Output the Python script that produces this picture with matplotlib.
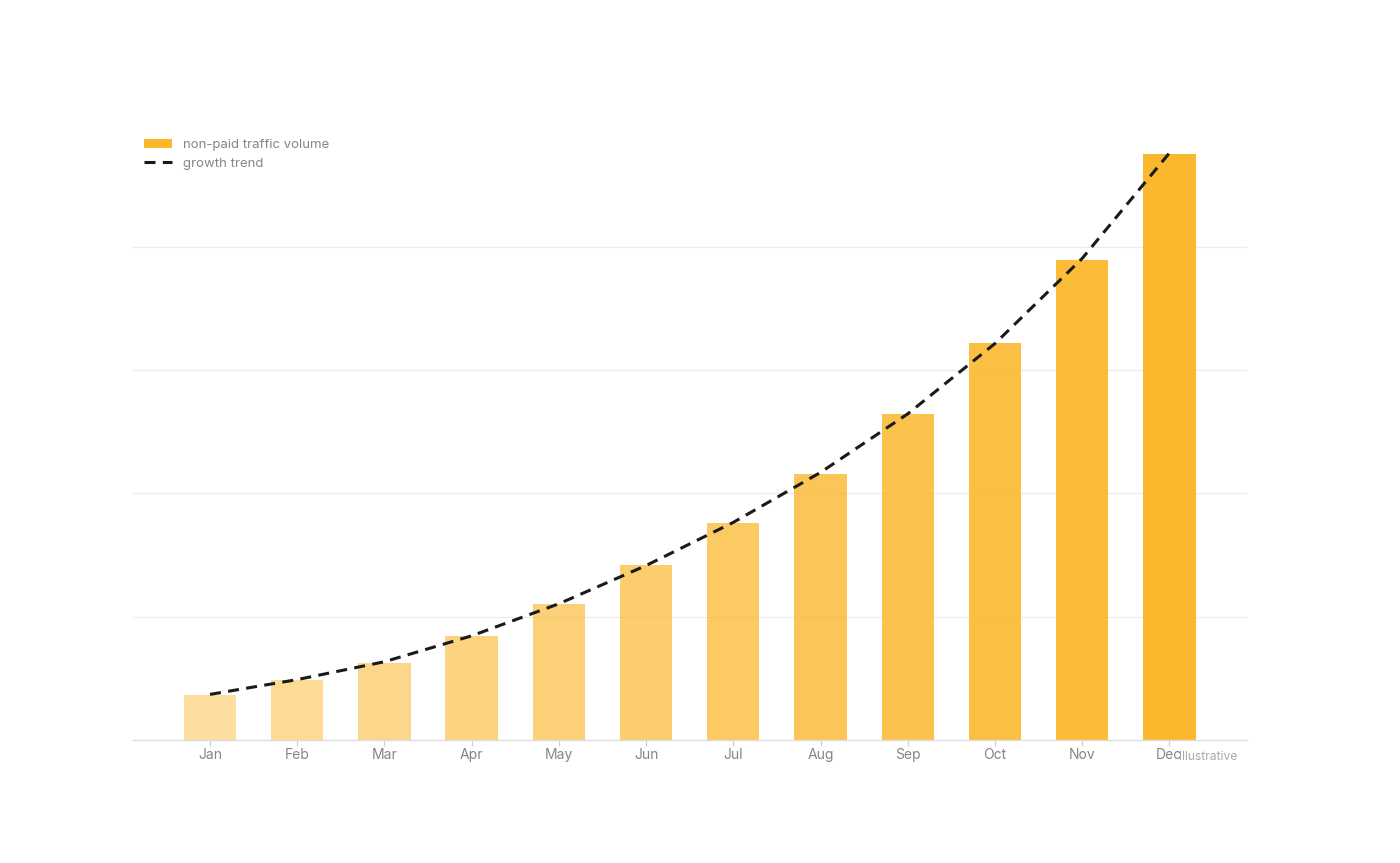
import matplotlib.pyplot as plt
import numpy as np
from matplotlib.patches import Patch
from matplotlib.lines import Line2D

plt.rcParams['font.family'] = ['Inter', 'DejaVu Sans']

months = ['Jan', 'Feb', 'Mar', 'Apr', 'May', 'Jun', 'Jul', 'Aug', 'Sep', 'Oct', 'Nov', 'Dec']
# bar heights (grid step = 100)
traffic = [36.5, 48.7, 62.5, 84.3, 110.3, 141.9, 176.0, 215.7, 264.4, 322.0, 389.3, 475.3]
# dashed trend through the bar tops
trend = [37.0, 49.0, 63.5, 84.5, 110.5, 141.5, 176.5, 217.0, 264.5, 321.5, 390.5, 476.0]

bar_color = '#FBB72A'
alphas = np.linspace(0.45, 0.98, len(months))

fig = plt.figure(figsize=(14, 8.63), dpi=100)
ax = fig.add_axes([0.095, 0.1425, 0.7957, 0.7073])

x = np.arange(len(months))
for xi, h, a in zip(x, traffic, alphas):
    ax.bar(xi, h, width=0.6, color=bar_color, alpha=a, linewidth=0, zorder=2)

ax.plot(x, trend, color='#1a1a1a', linestyle=(0, (3.6, 2.4)), linewidth=2.2, zorder=3)

ax.set_xlim(-0.883, 11.89)
ax.set_ylim(0, 495)
ax.set_yticks([100, 200, 300, 400])
ax.yaxis.grid(True, color='#ececec', linewidth=0.9, zorder=0)
ax.tick_params(axis='y', left=False, labelleft=False)
ax.set_xticks(x)
ax.set_xticklabels(months)
ax.tick_params(axis='x', colors='#cccccc', labelcolor='#858585', labelsize=10, length=4, width=0.8, pad=1.5)

for side in ['top', 'right', 'left']:
    ax.spines[side].set_visible(False)
ax.spines['bottom'].set_color('#dddddd')
ax.spines['bottom'].set_linewidth(1.0)

handles = [Patch(facecolor=bar_color, edgecolor='none'),
           Line2D([0], [0], color='#1a1a1a', linestyle=(0, (3.6, 2.4)), linewidth=2.2)]
leg = ax.legend(handles, ['non-paid traffic volume', 'growth trend'],
                loc='upper left', bbox_to_anchor=(0.002, 1.0), frameon=False,
                fontsize=9.5, handlelength=2.1, handleheight=0.7, labelspacing=0.5,
                handletextpad=0.8, borderaxespad=0.3)
for t in leg.get_texts():
    t.set_color('#858585')

fig.text(1237 / 1400, 1 - 757 / 863, 'Illustrative', ha='right', va='center',
         fontsize=8.7, color='#aaaaaa')

fig.savefig('out.png', dpi=100)
